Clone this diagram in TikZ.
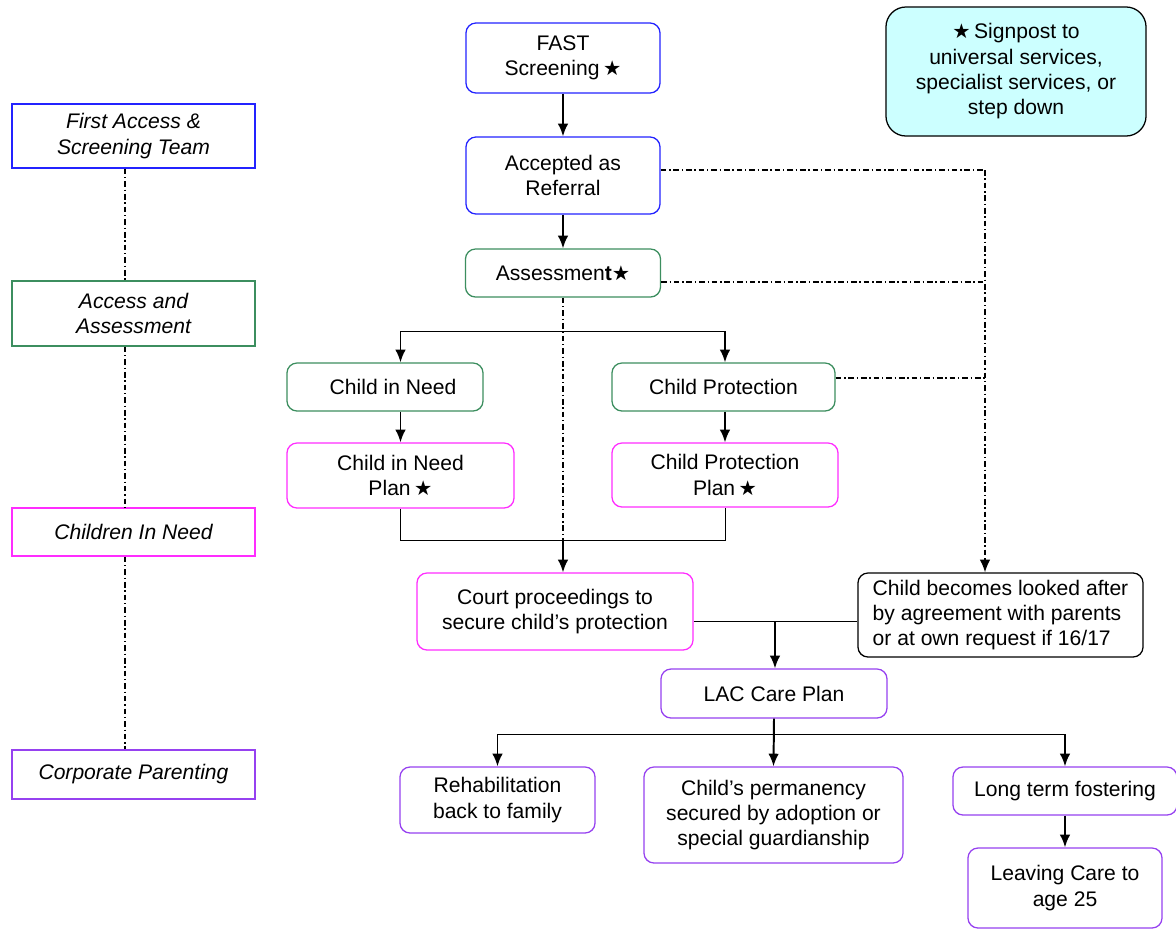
\documentclass[tikz,border=0pt]{standalone}
\usepackage{fontspec}
\setmainfont{Liberation Sans}
\newfontfamily\symfont{DejaVu Sans}
\usetikzlibrary{arrows.meta}
\definecolor{screenblue}{RGB}{35,35,255}
\definecolor{assessgreen}{RGB}{60,142,95}
\definecolor{needpink}{RGB}{255,45,255}
\definecolor{lacpurple}{RGB}{150,65,240}
\definecolor{signcyan}{RGB}{204,255,255}
\newcommand{\sgstar}{{\symfont\fontsize{14.5}{14}\selectfont\char"2605}}

\begin{document}
\begin{tikzpicture}
		[x=0.025cm, y=-0.025cm,
		font=\fontsize{15}{18}\selectfont,
		block/.style ={rectangle, draw, line width=0.9pt, rounded corners=0.25cm, fill=white, align=center, inner sep=2pt},
		team/.style ={rectangle, draw, line width=0.9pt, fill=white, align=center, font=\fontsize{15}{18}\selectfont\itshape, minimum width=6.075cm},
		line/.style ={draw, line width=1.4pt, -{Latex[length=9pt,width=7.5pt]}},
		link/.style ={draw, line width=0.7pt},
		dashdot/.style ={draw, line width=1.1pt, dash pattern=on 4pt off 2pt on 1pt off 2pt},
		]
		\useasboundingbox (0,0) rectangle (1176,929);

		% teams down the left
		\draw (133.5,136) node[team, draw=screenblue, minimum height=1.6cm] (FAT) {First Access \&\\Screening Team};
		\draw (133.5,313.5) node[team, draw=assessgreen, minimum height=1.625cm] (AAT) {Access and\\Assessment};
		\draw (133.5,532) node[team, draw=needpink, minimum height=1.2cm] (CNT) {Children In Need};
		\draw (133.5,774.5) node[team, draw=lacpurple, minimum height=1.225cm] (CPT) {Corporate Parenting};

		% main flow
		\draw (563,58) node[block, draw=screenblue, minimum width=4.85cm, minimum height=1.75cm] (FAST) {FAST\\Screening\,\sgstar};
		\draw (563,175.5) node[block, draw=screenblue, minimum width=4.85cm, minimum height=1.925cm] (ACC) {Accepted as\\Referral};
		\draw (563,273) node[block, draw=assessgreen, minimum width=4.875cm, minimum height=1.2cm] (ASS) {Assessmen\textbf{t}\sgstar};
		\draw (385,387) node[block, draw=assessgreen, minimum width=4.9cm, minimum height=1.2cm] (CIN) {\hspace{0.4cm}Child in Need};
		\draw (723.5,387) node[block, draw=assessgreen, minimum width=5.575cm, minimum height=1.2cm] (CPR) {Child Protection};
		\draw (400.5,475.5) node[block, draw=needpink, minimum width=5.675cm, minimum height=1.625cm] (CINP) {Child in Need\\Plan\,\sgstar};
		\draw (725,475) node[block, draw=needpink, minimum width=5.65cm, minimum height=1.6cm] (CPP) {Child Protection\\Plan\,\sgstar};
		\draw (555,611.5) node[block, draw=needpink, minimum width=6.9cm, minimum height=1.925cm] (CRT) {Court proceedings to\\secure child’s protection};
		\draw (1000.5,615) node[block, draw=black, minimum width=7.125cm, minimum height=2.1cm, align=left] (LOOK) {Child becomes looked after\\by agreement with parents\\or at own request if 16/17};
		\draw (774,693.5) node[block, draw=lacpurple, minimum width=5.65cm, minimum height=1.225cm] (LAC) {LAC Care Plan};
		\draw (497.5,800) node[block, draw=lacpurple, minimum width=4.875cm, minimum height=1.65cm] (REH) {Rehabilitation\\back to family};
		\draw (773.5,815) node[block, draw=lacpurple, minimum width=6.475cm, minimum height=2.4cm] (PERM) {Child’s permanency\\secured by adoption or\\special guardianship};
		\draw (1065,791) node[block, draw=lacpurple, minimum width=5.6cm, minimum height=1.2cm] (LTF) {Long term fostering};
		\draw (1065,888) node[block, draw=lacpurple, minimum width=4.85cm, minimum height=2cm] (LEAVE) {Leaving Care to\\age 25};
		\draw (1016,71.5) node[block, draw=black, fill=signcyan, rounded corners=0.5cm, minimum width=6.5cm, minimum height=3.225cm] (SIGN) {\sgstar\,Signpost to\\universal services,\\specialist services, or\\step down};

		\coordinate (split) at (563,331);
		\coordinate (merge) at (563,540);
		\coordinate (meet) at (775,621);
		\coordinate (fork) at (774,734);
		\coordinate (railtop) at (985,170);
		\coordinate (railass) at (985,282);
		\coordinate (railcp) at (985,378);
		\coordinate (spine) at (125,0);

		\draw[line] (FAST) -- (ACC);
		\draw[line] (ACC) -- (ASS);
		\draw[link] (CINP.north |- split) -- (CPP.north |- split);
		\draw[line] (CINP.north |- split) -- (CINP.north |- CIN.north);
		\draw[line] (CPP.north |- split) -- (CPP.north |- CPR.north);
		\draw[line] (CINP.north |- CIN.south) -- (CINP.north);
		\draw[line] (CPP.north |- CPR.south) -- (CPP.north);
		\draw[link] (CINP.south) |- (merge) -| (CPP.south);
		\draw[dashdot] (ASS.south) -- (merge);
		\draw[line] (merge) -- (merge |- CRT.north);
		\draw[link] (CRT.east |- meet) -- (LOOK.west |- meet);
		\draw[line] (meet) -- (meet |- LAC.north);
		\draw[link] (REH.north |- fork) -- (LTF.north |- fork);
		\draw[line] (LAC.south) -- (PERM.north);
		\draw[line] (REH.north |- fork) -- (REH.north);
		\draw[line] (LTF.north |- fork) -- (LTF.north);
		\draw[line] (LTF) -- (LEAVE);

		% dash-dot routes to looked after
		\draw[dashdot] (ACC.east |- railtop) -- (railtop);
		\draw[dashdot] (ASS.east |- railass) -- (railass);
		\draw[dashdot] (CPR.east |- railcp) -- (railcp);
		\draw[dashdot, -{Latex[length=9pt,width=7.5pt]}] (railtop) -- (railtop |- LOOK.north);

		% left spine
		\draw[dashdot] (FAT.south -| spine) -- (AAT.north -| spine);
		\draw[dashdot] (AAT.south -| spine) -- (CNT.north -| spine);
		\draw[dashdot] (CNT.south -| spine) -- (CPT.north -| spine);

	\end{tikzpicture}
\end{document}
